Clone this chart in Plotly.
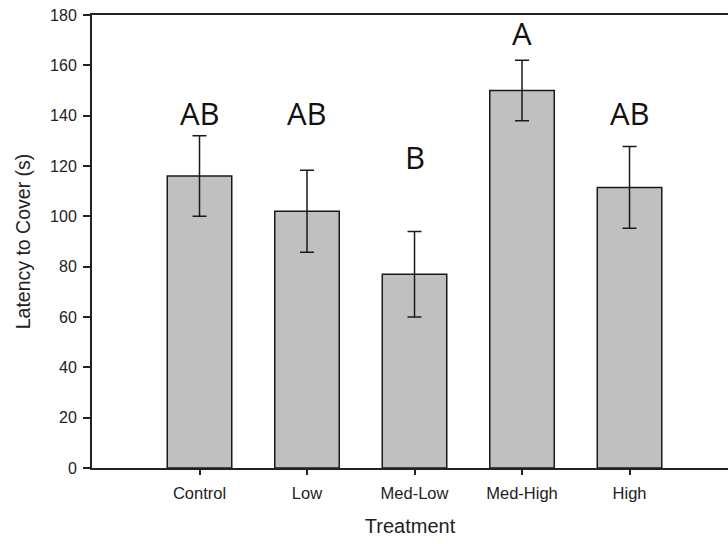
import plotly.graph_objects as go

categories = ["Control", "Low", "Med-Low", "Med-High", "High"]
means = [116, 102, 77, 150, 111.5]
errors = [16, 16.3, 17, 12, 16.2]
letters = ["AB", "AB", "B", "A", "AB"]
letter_y = [141, 141, 123.5, 173, 141]
y_ticks = [0, 20, 40, 60, 80, 100, 120, 140, 160, 180]

fig = go.Figure()
fig.add_trace(go.Bar(
    x=list(range(len(categories))), y=means,
    width=0.6,
    marker=dict(color="#c0c0c0", line=dict(color="#1a1a1a", width=1.5)),
    error_y=dict(type="data", array=errors, visible=True, color="#1a1a1a",
                 thickness=1.5, width=7),
    showlegend=False,
))

for i, (t, yy) in enumerate(zip(letters, letter_y)):
    fig.add_annotation(x=i, y=yy, text=t, showarrow=False, xanchor="center",
                       yanchor="middle",
                       font=dict(family="Open Sans", size=31, color="#111111"))

fig.update_layout(
    width=728, height=544,
    margin=dict(l=92, r=0, t=15, b=76),
    paper_bgcolor="white", plot_bgcolor="white",
    font=dict(family="Liberation Sans, Arial", color="#222222"),
    bargap=0.4,
)
fig.update_xaxes(
    range=[-1, 4.916],
    tickmode="array", tickvals=list(range(len(categories))), ticktext=categories,
    ticks="outside", ticklen=5, tickwidth=1.5, tickcolor="#222222",
    showline=True, linecolor="#222222", linewidth=2, mirror=True,
    showgrid=False, zeroline=False,
    tickfont=dict(size=16.5),
    ticklabelstandoff=4,
    title=dict(text="Treatment", font=dict(size=20), standoff=18),
)
fig.update_yaxes(
    range=[0, 180],
    tickmode="array", tickvals=y_ticks,
    ticks="outside", ticklen=7, tickwidth=1.5, tickcolor="#222222",
    showline=True, linecolor="#222222", linewidth=2,
    showgrid=False, zeroline=False,
    tickfont=dict(size=16),
    ticklabelstandoff=3,
    title=dict(text="Latency to Cover (s)", font=dict(size=19.5), standoff=14),
)

fig.write_html("out.html")
